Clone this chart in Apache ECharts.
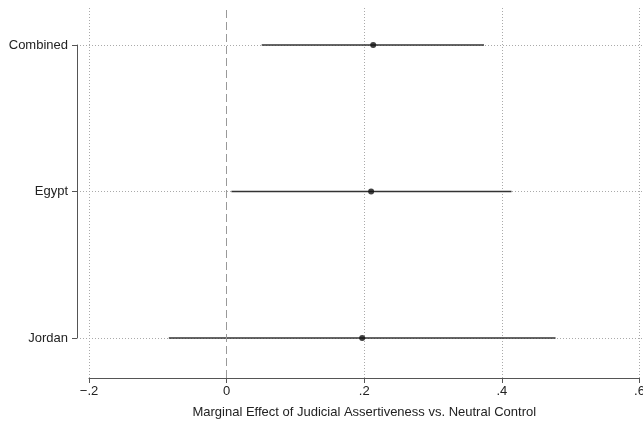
<!DOCTYPE html>
<html>
<head>
<meta charset="utf-8">
<script src="https://cdn.jsdelivr.net/npm/echarts@6/dist/echarts.min.js"></script>
<style>
html,body{margin:0;padding:0;background:#fff;}
#c{width:643px;height:422px;}
</style>
</head>
<body>
<div id="c"></div>
<script>
// Data
var categories = ['Jordan', 'Egypt', 'Combined'];
var estimates = [0.197, 0.210, 0.213];
var lower = [-0.084, 0.007, 0.051];
var upper = [0.478, 0.414, 0.374];
var xTicks = [-0.2, 0, 0.2, 0.4, 0.6];
var xTickLabels = ['\u2212.2', '0', '.2', '.4', '.6'];
var xTitle = 'Marginal Effect of Judicial Assertiveness vs. Neutral Control';

var FONT = '"Liberation Sans", Arial, Helvetica, sans-serif';
var ciData = categories.map(function (c, i) { return [lower[i], upper[i], i + 1]; });
var ptData = categories.map(function (c, i) { return [estimates[i], i + 1]; });

var chart = echarts.init(document.getElementById('c'), null, {renderer: 'canvas'});
chart.setOption({
  animation: false,
  backgroundColor: '#fff',
  grid: [
    {left: 80, right: 0, top: 45, bottom: 84, outerBoundsMode: 'none', containLabel: false},
    {left: 89, right: 3.5, top: 8, bottom: 44, outerBoundsMode: 'none', containLabel: false}
  ],
  xAxis: [
    {gridIndex: 0, type: 'value', min: -0.21308, max: 0.60509, show: false},
    {
      gridIndex: 1, type: 'value', min: xTicks[0], max: xTicks[xTicks.length - 1], interval: 0.2,
      name: xTitle, nameLocation: 'middle', nameGap: 28,
      nameTextStyle: {fontFamily: FONT, fontSize: 13, color: '#222'},
      axisLine: {show: true, onZero: false, lineStyle: {color: '#555', width: 1}},
      axisTick: {show: true, length: 5, lineStyle: {color: '#555'}},
      axisLabel: {
        fontFamily: FONT, fontSize: 13, color: '#222', margin: 7,
        formatter: function (v) {
          for (var i = 0; i < xTicks.length; i++) if (Math.abs(v - xTicks[i]) < 1e-9) return xTickLabels[i];
          return '';
        }
      },
      splitLine: {show: true, lineStyle: {color: ['#aaa', 'rgba(0,0,0,0)', '#aaa', '#aaa', '#aaa'], type: [1, 2], width: 1}}
    }
  ],
  yAxis: [
    {
      gridIndex: 0, type: 'value', min: 1, max: 3, interval: 1, offset: 3, position: 'left',
      axisLine: {show: true, onZero: false, lineStyle: {color: '#555', width: 1}},
      axisTick: {show: true, length: 5, lineStyle: {color: '#555'}},
      axisLabel: {
        fontFamily: FONT, fontSize: 13, color: '#222', margin: 9,
        formatter: function (v) { return categories[Math.round(v) - 1] || ''; }
      },
      splitLine: {show: true, lineStyle: {color: '#aaa', type: [1, 2], width: 1}}
    },
    {gridIndex: 1, type: 'value', min: 0, max: 1, show: false}
  ],
  series: [
    {
      type: 'line', xAxisIndex: 1, yAxisIndex: 1, data: [], silent: true,
      markLine: {
        symbol: 'none', silent: true, label: {show: false},
        lineStyle: {color: '#999', type: [8, 4], width: 1},
        data: [{xAxis: 0}]
      }
    },
    {
      type: 'custom', xAxisIndex: 0, yAxisIndex: 0, data: ciData, silent: true,
      renderItem: function (params, api) {
        var p1 = api.coord([api.value(0), api.value(2)]);
        var p2 = api.coord([api.value(1), api.value(2)]);
        return {type: 'line', shape: {x1: p1[0], y1: p1[1], x2: p2[0], y2: p2[1]},
          style: {stroke: '#333', lineWidth: 1.5}};
      }
    },
    {
      type: 'scatter', xAxisIndex: 0, yAxisIndex: 0, data: ptData, silent: true,
      symbol: 'circle', symbolSize: 6, itemStyle: {color: '#111'}
    }
  ]
});
</script>
</body>
</html>
